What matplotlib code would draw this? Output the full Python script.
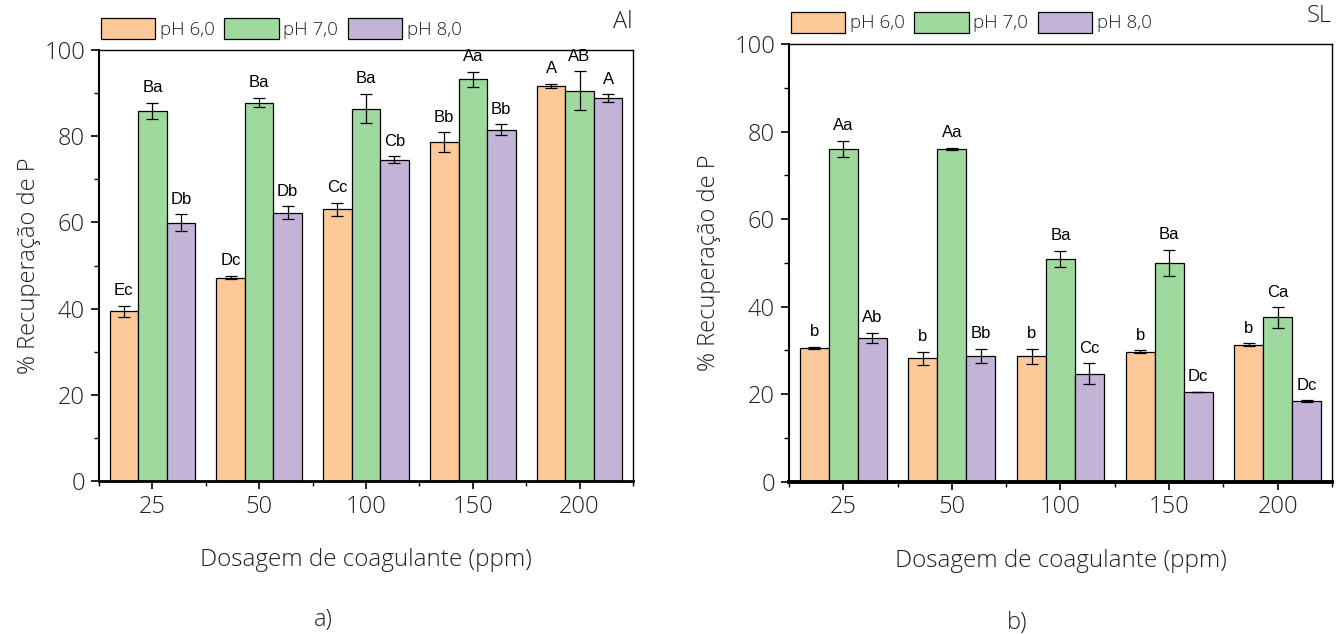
import numpy as np
import matplotlib.pyplot as plt
from matplotlib.patches import Patch
from matplotlib.ticker import MultipleLocator, FixedLocator

# Dosagens de coagulante e condições de pH
dosagens = ['25', '50', '100', '150', '200']
rotulos_ph = ['pH 6,0', 'pH 7,0', 'pH 8,0']
cores = ['#FDC999', '#A0D99D', '#C3B3D7']

# Coagulante Al: recuperação de P (%), desvio padrão e letras de Tukey
al_ph6 = [39.4, 47.2, 63.0, 78.6, 91.7]
al_ph7 = [85.9, 87.8, 86.4, 93.2, 90.6]
al_ph8 = [59.9, 62.3, 74.5, 81.5, 88.8]
al_err6 = [1.3, 0.4, 1.5, 2.3, 0.5]
al_err7 = [1.9, 1.1, 3.4, 1.8, 4.5]
al_err8 = [2.0, 1.4, 0.8, 1.3, 0.9]
al_let6 = ['Ec', 'Dc', 'Cc', 'Bb', 'A']
al_let7 = ['Ba', 'Ba', 'Ba', 'Aa', 'AB']
al_let8 = ['Db', 'Db', 'Cb', 'Bb', 'A']

# Coagulante SL
sl_ph6 = [30.6, 28.2, 28.6, 29.7, 31.3]
sl_ph7 = [76.0, 76.0, 50.9, 50.0, 37.5]
sl_ph8 = [32.8, 28.7, 24.6, 20.5, 18.4]
sl_err6 = [0.2, 1.5, 1.8, 0.3, 0.3]
sl_err7 = [1.8, 0.3, 1.9, 3.0, 2.3]
sl_err8 = [1.2, 1.7, 2.4, 0.0, 0.2]
sl_let6 = ['b', 'b', 'b', 'b', 'b']
sl_let7 = ['Aa', 'Aa', 'Ba', 'Ba', 'Ca']
sl_let8 = ['Ab', 'Bb', 'Cc', 'Dc', 'Dc']

fonte = ['Open Sans', 'DejaVu Sans']
peso = 'light'
fonte_letras = ['Liberation Sans', 'DejaVu Sans']
cor_texto = '#222222'
largura = 0.267


def grafico(ax, series, erros, letras, titulo, sub, pos_ylabel, esp_base):
    x = np.arange(len(dosagens))
    for i in range(3):
        pos = x + (i - 1) * largura
        ax.bar(pos, series[i], largura, color=cores[i], edgecolor='black',
               linewidth=0.9, zorder=2)
        ax.errorbar(pos, series[i], yerr=erros[i], fmt='none', ecolor='black',
                    elinewidth=0.9, capsize=4, capthick=0.9, zorder=3)
        for xp, v, e, t in zip(pos, series[i], erros[i], letras[i]):
            ax.annotate(t, (xp, v + e), xytext=(0, 5.5), textcoords='offset points',
                        ha='center', va='bottom', fontsize=12, family=fonte_letras)
    ax.set_xlim(-0.5, 4.5)
    ax.set_ylim(0, 100)
    ax.set_xticks(x)
    ax.set_xticklabels(dosagens)
    ax.xaxis.set_minor_locator(FixedLocator(np.arange(-0.5, 5, 1)))
    ax.yaxis.set_major_locator(MultipleLocator(20))
    ax.yaxis.set_minor_locator(MultipleLocator(10))
    ax.tick_params(which='major', direction='out', length=6, width=1.2,
                   labelsize=17, pad=4, labelcolor=cor_texto)
    ax.tick_params(which='minor', direction='out', length=3.5, width=1.0)
    for lab in ax.get_xticklabels() + ax.get_yticklabels():
        lab.set_family(fonte)
        lab.set_fontweight(peso)
    for s in ['top', 'right']:
        ax.spines[s].set_linewidth(1.0)
    ax.spines['left'].set_linewidth(1.5)
    ax.spines['bottom'].set_linewidth(esp_base)
    ax.set_ylabel('% Recuperação de P', fontsize=17, family=fonte,
                  fontweight=peso, color=cor_texto)
    ax.yaxis.set_label_coords(pos_ylabel, 0.5)
    ax.set_xlabel('Dosagem de coagulante (ppm)', fontsize=17.5, family=fonte,
                  fontweight=peso, color=cor_texto)
    ax.xaxis.set_label_coords(0.5, -0.155)
    handles = [Patch(facecolor=cores[i], edgecolor='black', linewidth=0.9,
                     label=rotulos_ph[i]) for i in range(3)]
    ax.legend(handles=handles, loc='lower left', bbox_to_anchor=(-0.005, 1.015),
              ncol=3, frameon=False, handlelength=2.9, handleheight=1.35,
              handletextpad=0.25, columnspacing=0.5, borderaxespad=0.2,
              borderpad=0.05, labelcolor=cor_texto,
              prop={'family': fonte, 'size': 13.5, 'weight': peso})
    ax.text(1.0, 1.065, titulo, transform=ax.transAxes, ha='right', va='center',
            fontsize=17, family=fonte, fontweight=peso, color=cor_texto)
    ax.text(0.42, -0.323, sub, transform=ax.transAxes, ha='center', va='center',
            fontsize=17, family=fonte, fontweight=peso, color=cor_texto)


fig = plt.figure(figsize=(13.43, 6.34), dpi=100)
ax1 = fig.add_axes([0.0737, 0.2413, 0.3976, 0.6798])
ax2 = fig.add_axes([0.5875, 0.2405, 0.4043, 0.6901])

grafico(ax1, [al_ph6, al_ph7, al_ph8], [al_err6, al_err7, al_err8],
        [al_let6, al_let7, al_let8], 'Al', 'a)', -0.108, 2.0)
grafico(ax2, [sl_ph6, sl_ph7, sl_ph8], [sl_err6, sl_err7, sl_err8],
        [sl_let6, sl_let7, sl_let8], 'SL', 'b)', -0.125, 2.8)

fig.savefig('out.png', dpi=100)
